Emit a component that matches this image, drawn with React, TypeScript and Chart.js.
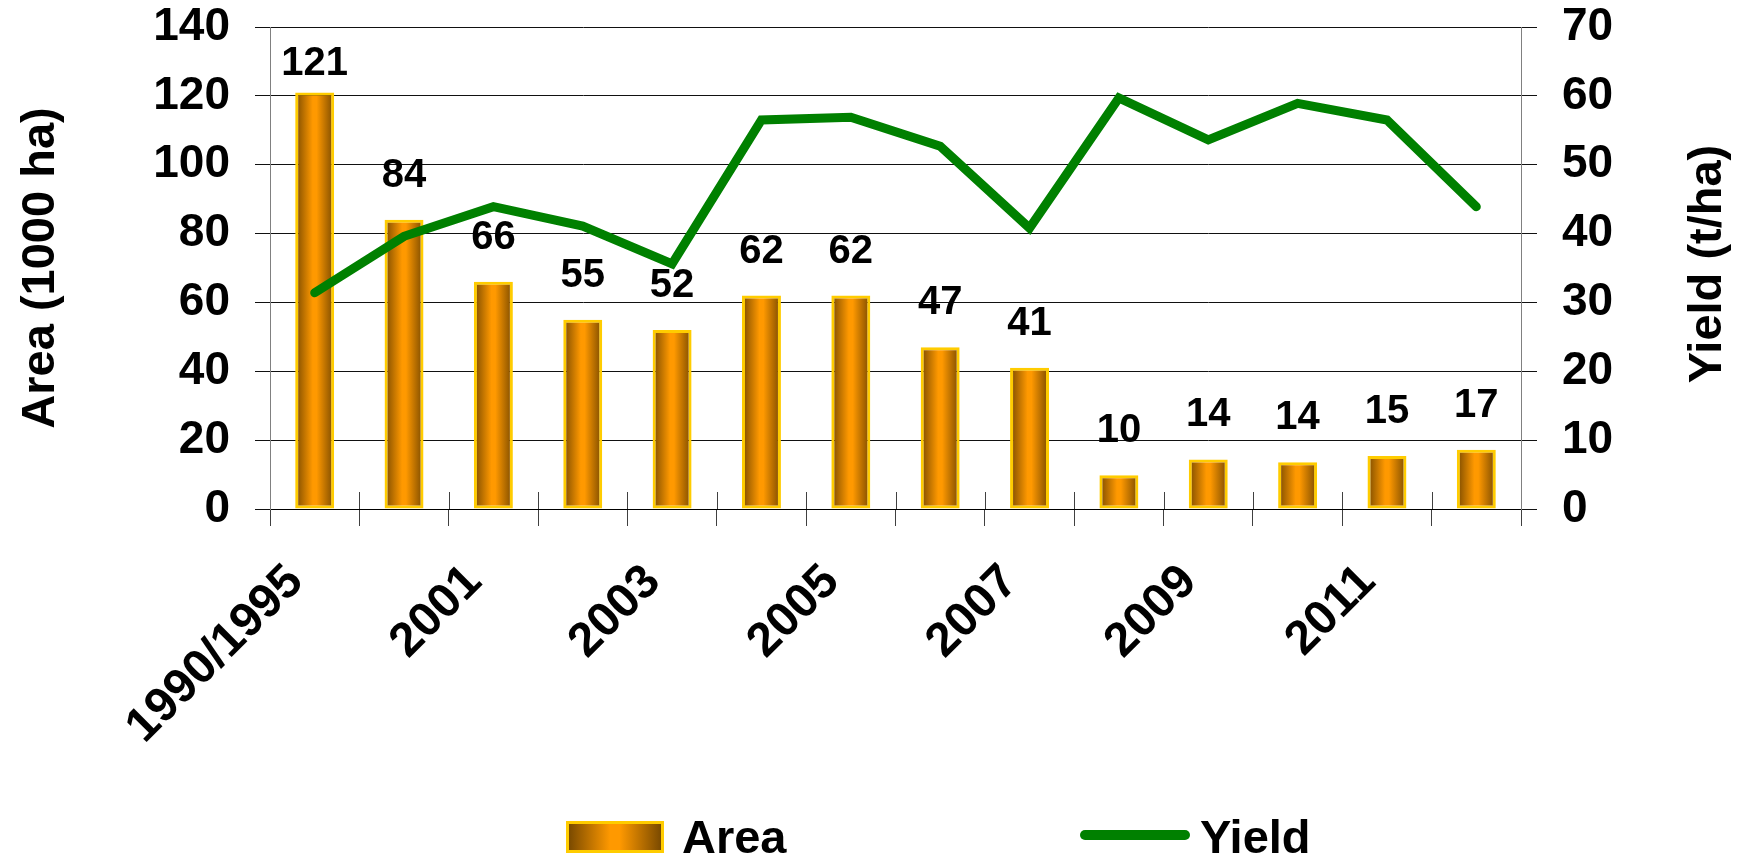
import React, { useEffect, useRef } from "react";
import { Chart, registerables } from "chart.js";

Chart.register(...registerables);

// ---- data ----
const categories = [
  "1990/1995", "2000", "2001", "2002", "2003", "2004", "2005",
  "2006", "2007", "2008", "2009", "2010", "2011", "2012",
];
const areaValues = [121, 84, 66, 55, 52, 62, 62, 47, 41, 9.8, 14.4, 13.6, 15.4, 17.2];
const yieldValues = [31.4, 39.6, 43.9, 41.1, 35.6, 56.5, 56.9, 52.7, 40.8, 59.7, 53.6, 58.9, 56.5, 43.9];
const areaAxis = [0, 140, 20]; // min, max, step
const yieldAxis = [0, 70, 10];
const areaTitle = "Area (1000 ha)";
const yieldTitle = "Yield (t/ha)";
const seriesNames = ["Area", "Yield"];

const FONT = "'Liberation Sans', Arial, Helvetica, sans-serif";
const BAR_PCT = 0.436;
const DARK = "#7a4a00";
const ORANGE = "#ff9900";

const barGradient = (c: any) => {
  const chart = c.chart;
  const xs = chart.scales && chart.scales.x;
  if (!chart.chartArea || !xs || c.dataIndex === undefined) return ORANGE;
  const cx = xs.getPixelForValue(c.dataIndex);
  const w = (xs.width / categories.length) * BAR_PCT;
  const g = chart.ctx.createLinearGradient(cx - w / 2, 0, cx + w / 2, 0);
  g.addColorStop(0, DARK);
  g.addColorStop(0.45, ORANGE);
  g.addColorStop(0.55, ORANGE);
  g.addColorStop(1, DARK);
  return g;
};

const extrasPlugin = {
  id: "extras",
  beforeDatasetsDraw(chart: any) {
    // inner half of the crossing category tick marks
    const ctx = chart.ctx;
    const xs = chart.scales.x;
    const ca = chart.chartArea;
    const n = categories.length;
    ctx.save();
    ctx.strokeStyle = "#404040";
    ctx.lineWidth = 1;
    ctx.beginPath();
    for (let i = 1; i < n; i++) {
      const x = Math.round((xs.getPixelForValue(i - 1) + xs.getPixelForValue(i)) / 2) + 0.5;
      ctx.moveTo(x, ca.bottom - 17);
      ctx.lineTo(x, ca.bottom);
    }
    ctx.stroke();
    ctx.restore();
  },
  afterDatasetsDraw(chart: any) {
    const ctx = chart.ctx;
    const meta = chart.getDatasetMeta(1);
    ctx.save();
    ctx.font = `bold 40px ${FONT}`;
    ctx.fillStyle = "#000";
    ctx.textAlign = "center";
    ctx.textBaseline = "alphabetic";
    meta.data.forEach((el: any, i: number) => {
      const y = Math.max(el.y - 33, chart.chartArea.top + 48);
      ctx.fillText(String(Math.round(areaValues[i])), el.x, y);
    });
    ctx.restore();
  },
  afterDraw(chart: any) {
    const ctx = chart.ctx;
    const s = chart.scales.y1;
    const ca = chart.chartArea;
    ctx.save();
    ctx.translate(s.right - 37, (ca.top + ca.bottom) / 2 - 4);
    ctx.rotate(-Math.PI / 2);
    ctx.font = `bold 47px ${FONT}`;
    ctx.fillStyle = "#000";
    ctx.textAlign = "center";
    ctx.textBaseline = "middle";
    ctx.fillText(yieldTitle, 0, 0);
    ctx.restore();
  },
};

export default function App() {
  const ref = useRef<HTMLCanvasElement | null>(null);

  useEffect(() => {
    if (!ref.current) return;
    const tickFont = { family: FONT, size: 46, weight: "bold" as const };
    const chart = new Chart(ref.current, {
      type: "bar",
      data: {
        labels: categories,
        datasets: [
          {
            type: "line",
            label: seriesNames[1],
            data: yieldValues,
            yAxisID: "y1",
            borderColor: "#008000",
            backgroundColor: "#008000",
            borderWidth: 9,
            pointRadius: 0,
            borderCapStyle: "round",
            borderJoinStyle: "miter",
            tension: 0,
            order: 0,
          } as any,
          {
            type: "bar",
            label: seriesNames[0],
            data: areaValues,
            yAxisID: "y",
            backgroundColor: barGradient,
            borderColor: "#FFCC00",
            borderWidth: 3,
            borderSkipped: false,
            barPercentage: BAR_PCT,
            categoryPercentage: 1,
            order: 1,
          } as any,
        ],
      },
      options: {
        animation: false,
        responsive: true,
        maintainAspectRatio: false,
        layout: { padding: { top: 27, left: 0, right: 0, bottom: 0 }, autoPadding: false },
        plugins: { legend: { display: false }, tooltip: { enabled: false } },
        scales: {
          x: {
            type: "category",
            offset: true,
            grid: {
              offset: true,
              drawOnChartArea: false,
              drawTicks: true,
              tickLength: 17,
              color: "#404040",
              lineWidth: 1,
            },
            border: { color: "#000", width: 1 },
            ticks: {
              autoSkip: false,
              minRotation: 45,
              maxRotation: 45,
              padding: 28,
              labelOffset: -19,
              color: "#000",
              font: { family: FONT, size: 48, weight: "bold" },
              callback: (_v: any, i: number) => (i % 2 === 0 ? categories[i] : ""),
            },
            afterFit: (s: any) => {
              s.height = 351;
              s.paddingLeft = 0;
              s.paddingRight = 0;
            },
          },
          y: {
            position: "left",
            min: areaAxis[0],
            max: areaAxis[1],
            ticks: {
              stepSize: areaAxis[2],
              padding: 25,
              color: "#000",
              font: tickFont,
            },
            grid: { color: "#111", lineWidth: 1, tickLength: 15 },
            border: { color: "#808080", width: 1 },
            title: {
              display: true,
              text: areaTitle,
              color: "#000",
              font: { family: FONT, size: 47, weight: "bold" },
              padding: { top: 13, bottom: 0 },
            },
            afterFit: (s: any) => {
              s.width = 270;
              s.paddingTop = 0;
              s.paddingBottom = 0;
            },
          },
          y1: {
            position: "right",
            min: yieldAxis[0],
            max: yieldAxis[1],
            ticks: {
              stepSize: yieldAxis[2],
              padding: 25,
              color: "#000",
              font: tickFont,
            },
            grid: { drawOnChartArea: false, color: "#111", lineWidth: 1, tickLength: 16 },
            border: { color: "#808080", width: 1 },
            afterFit: (s: any) => {
              s.width = 224;
              s.paddingTop = 0;
              s.paddingBottom = 0;
            },
          },
        },
      } as any,
      plugins: [extrasPlugin],
    });
    return () => chart.destroy();
  }, []);

  const legendText: React.CSSProperties = {
    position: "absolute",
    top: 813,
    font: `bold 47px ${FONT}`,
    lineHeight: "47px",
    color: "#000",
    whiteSpace: "nowrap",
  };

  return (
    <div
      style={{
        position: "absolute",
        left: 0,
        top: 0,
        width: 1745,
        height: 860,
        background: "#fff",
        overflow: "hidden",
      }}
    >
      <canvas ref={ref} style={{ display: "block" }} />
      <div
        style={{
          position: "absolute",
          left: 566,
          top: 821,
          width: 98,
          height: 32,
          boxSizing: "border-box",
          border: "3px solid #FFCC00",
          background: `linear-gradient(to right, ${DARK} 0%, ${ORANGE} 45%, ${ORANGE} 55%, ${DARK} 100%)`,
        }}
      />
      <div style={{ ...legendText, left: 682 }}>{seriesNames[0]}</div>
      <div
        style={{
          position: "absolute",
          left: 1080,
          top: 830,
          width: 110,
          height: 10,
          borderRadius: 5,
          background: "#008000",
        }}
      />
      <div style={{ ...legendText, left: 1200 }}>{seriesNames[1]}</div>
    </div>
  );
}
